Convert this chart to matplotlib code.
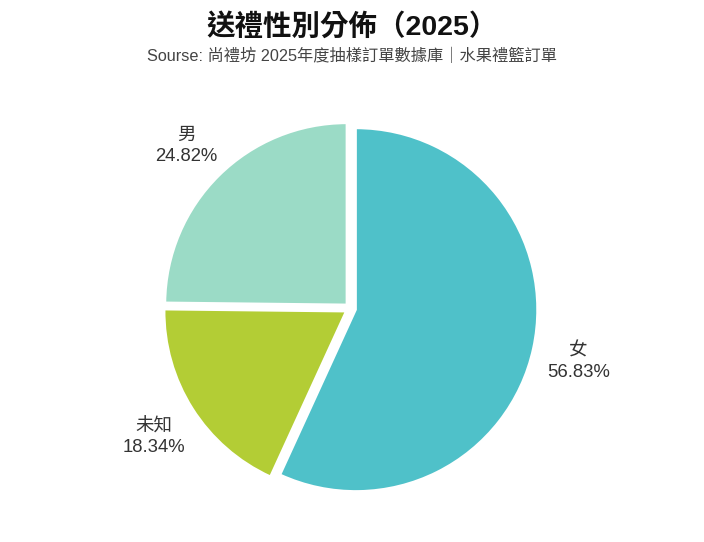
import numpy as np
import matplotlib.pyplot as plt

plt.rcParams['font.family'] = ['Liberation Sans', 'Noto Sans CJK TC', 'DejaVu Sans']

# 資料
categories = ['女', '未知', '男']
shares = [56.83, 18.34, 24.82]
colors = ['#4fc1c9', '#b3cd35', '#9bdbc6']

W, H = 704, 542
cx, cy = 350.5, 308.5   # 圓心（像素）
r = 181.5               # 半徑（像素）

fig = plt.figure(figsize=(W / 100, H / 100), dpi=100)
ax = fig.add_axes([0, 0, 1, 1])

wedges, _ = ax.pie(shares, colors=colors, startangle=90, counterclock=False,
                   explode=[0.03] * len(shares), radius=1,
                   wedgeprops=dict(edgecolor='white', linewidth=1.5))

# 標籤放在每塊扇形中線外側
for w, cat, val in zip(wedges, categories, shares):
    mid = np.deg2rad((w.theta1 + w.theta2) / 2)
    d = 1.285
    ax.text(d * np.cos(mid), d * np.sin(mid) - 0.02, f'{cat}\n{val:.2f}%',
            ha='center', va='center', fontsize=13.3, color='#333333',
            linespacing=1.32)

ax.set_xlim(-cx / r, (W - cx) / r)
ax.set_ylim(-(H - cy) / r, cy / r)
ax.set_aspect('equal')
ax.axis('off')

fig.text(0.5, 1 - 27 / H, '送禮性別分佈（2025）', ha='center', va='center',
         fontsize=20.5, fontweight='bold', color='#111111')
fig.text(0.5, 1 - 56 / H, 'Sourse: 尚禮坊 2025年度抽樣訂單數據庫｜水果禮籃訂單',
         ha='center', va='center', fontsize=11.7, color='#444444')

fig.savefig('out.png', dpi=100)
